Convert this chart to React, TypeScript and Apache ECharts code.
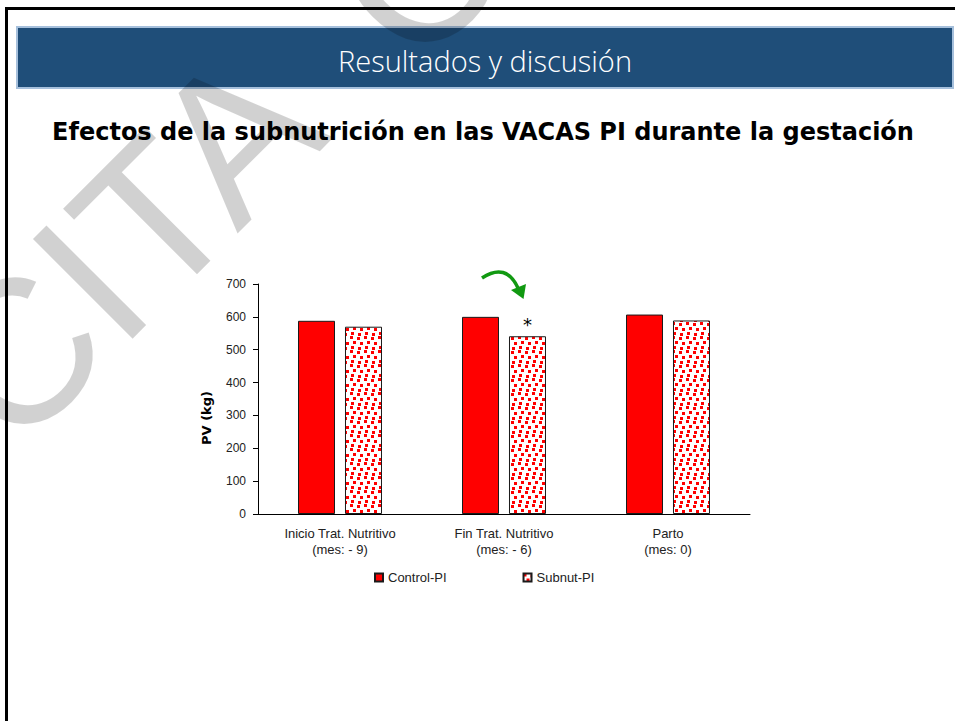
import React, { useEffect, useRef } from 'react';
import * as echarts from 'echarts';

const categories = ['Inicio Trat. Nutritivo\n(mes: - 9)', 'Fin Trat. Nutritivo\n(mes: - 6)', 'Parto\n(mes: 0)'];
const controlPI = [588, 600, 607];
const subnutPI = [570, 541, 589];
const subnutMarks = ['', '*', ''];
const seriesNames = ['Control-PI', 'Subnut-PI'];
const yMin = 0;
const yMax = 700;
const yInterval = 100;
const headerTitle = 'Resultados y discusión';
const mainTitle = 'Efectos de la subnutrición en las VACAS PI durante la gestación';
const yAxisName = 'PV (kg)';
const watermarkWords = ['CITA', 'C'];

function makeDots(): HTMLCanvasElement {
  const s = 14;
  const c = document.createElement('canvas');
  c.width = s;
  c.height = s;
  const ctx = c.getContext('2d')!;
  ctx.fillStyle = '#ffffff';
  ctx.fillRect(0, 0, s, s);
  ctx.fillStyle = '#ff0000';
  [[0, 0], [7, 1], [3, 5], [10, 6], [1, 10], [8, 11]].forEach(([x, y]) => ctx.fillRect(x, y, 3, 3));
  return c;
}

export default function App() {
  const ref = useRef<HTMLDivElement>(null);
  useEffect(() => {
    if (!ref.current) return;
    const chart = echarts.init(ref.current, undefined, { renderer: 'svg' });
    const dots = makeDots();
    const wmStyle = { fill: 'rgba(0,0,0,0.18)', fontSize: 205, fontFamily: 'Liberation Sans', align: 'left', verticalAlign: 'middle' };
    const option: any = {
      animation: false,
      textStyle: { fontFamily: 'Liberation Sans' },
      grid: { left: 258, top: 284, width: 492, height: 230 },
      xAxis: {
        type: 'category',
        data: categories,
        axisLine: { lineStyle: { color: '#000', width: 1 } },
        axisTick: { show: false },
        axisLabel: { color: '#222', fontSize: 13, lineHeight: 16, margin: 11, interval: 0, fontFamily: 'Liberation Sans' },
        splitLine: { show: false },
      },
      yAxis: {
        type: 'value',
        min: yMin,
        max: yMax,
        interval: yInterval,
        axisLine: { show: true, lineStyle: { color: '#000', width: 1 } },
        axisTick: { show: true, length: 5, lineStyle: { color: '#000' } },
        axisLabel: { color: '#222', fontSize: 12, margin: 12, fontFamily: 'Liberation Sans' },
        splitLine: { show: false },
        name: yAxisName,
        nameLocation: 'middle',
        nameGap: 45,
        nameRotate: 90,
        nameTextStyle: { fontFamily: 'DejaVu Sans', fontWeight: 'bold', fontSize: 13, color: '#000', padding: [0, 38, 0, 0] },
      },
      legend: {
        data: seriesNames,
        left: 374,
        top: 571,
        padding: 0,
        itemWidth: 8,
        itemHeight: 8,
        itemGap: 76,
        icon: 'rect',
        textStyle: { fontSize: 13, color: '#222', fontFamily: 'Liberation Sans' },
      },
      series: [
        {
          name: seriesNames[0],
          type: 'bar',
          data: controlPI,
          barWidth: 37,
          barGap: '27%',
          itemStyle: { color: '#FF0000', borderColor: '#1a1a1a', borderWidth: 1 },
        },
        {
          name: seriesNames[1],
          type: 'bar',
          data: subnutPI.map((v, i) => ({
            value: v,
            label: { show: !!subnutMarks[i], formatter: subnutMarks[i] },
          })),
          barWidth: 37,
          barGap: '27%',
          itemStyle: { color: { image: dots, repeat: 'repeat' }, borderColor: '#1a1a1a', borderWidth: 1 },
          label: { position: 'top', distance: 3, fontSize: 18, color: '#000', fontFamily: 'DejaVu Sans' },
        },
      ],
      graphic: [
        { type: 'line', z: 1, shape: { x1: 6.5, y1: 7, x2: 6.5, y2: 721 }, style: { stroke: '#000', lineWidth: 3 } },
        { type: 'line', z: 1, shape: { x1: 5, y1: 8.5, x2: 955, y2: 8.5 }, style: { stroke: '#000', lineWidth: 3 } },
        { type: 'rect', z: 1, shape: { x: 17, y: 27, width: 936, height: 61 }, style: { fill: '#1F4E79', stroke: '#A6C0DC', lineWidth: 2 } },
        {
          type: 'text', z: 2, x: 485, y: 60,
          style: { text: headerTitle, fill: '#ffffff', fontSize: 29, fontWeight: 300, fontFamily: 'Open Sans', align: 'center', verticalAlign: 'middle' },
        },
        {
          type: 'text', z: 2, x: 483, y: 132,
          style: { text: mainTitle, fill: '#000000', fontSize: 24, fontWeight: 'bold', fontFamily: 'DejaVu Sans', align: 'center', verticalAlign: 'middle' },
        },
        {
          type: 'bezierCurve', z: 3,
          shape: { x1: 482, y1: 278, cpx1: 506, cpy1: 262, x2: 518, y2: 288 },
          style: { stroke: '#119911', lineWidth: 3.5, fill: null },
        },
        {
          type: 'polygon', z: 3,
          shape: { points: [[511, 290], [526, 284], [523.5, 299]] },
          style: { fill: '#119911' },
        },
        {
          type: 'text', z: 50, x: -36, y: 406, rotation: Math.PI / 4, silent: true,
          style: { ...wmStyle, text: watermarkWords[0] },
        },
        {
          type: 'text', z: 50, x: 365, y: 24, rotation: Math.PI / 4, silent: true,
          style: { ...wmStyle, text: watermarkWords[1] },
        },
      ],
    };
    chart.setOption(option);
    return () => chart.dispose();
  }, []);
  return <div ref={ref} style={{ position: 'fixed', left: 0, top: 0, width: 955, height: 721, background: '#fff' }} />;
}
